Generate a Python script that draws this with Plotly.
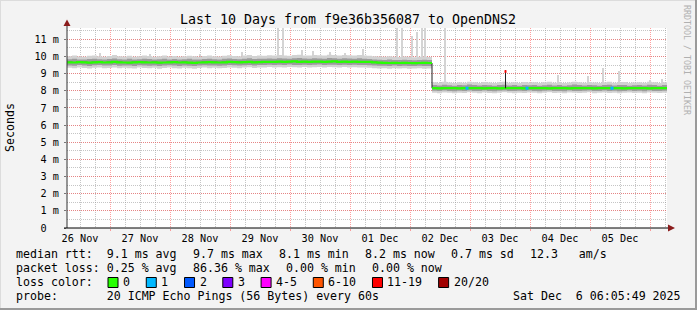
import plotly.graph_objects as go
import pandas as pd

# ---------------- data ----------------
start_time = pd.Timestamp("2025-11-26 06:48:00")
span_hours = 240
sample_hours = list(range(0, 241, 2))

median_ms = [
    9.66, 9.65, 9.67, 9.66, 9.64, 9.66, 9.67, 9.65, 9.66, 9.68,
    9.66, 9.65, 9.64, 9.66, 9.67, 9.66, 9.65, 9.66, 9.64, 9.65,
    9.66, 9.67, 9.65, 9.66, 9.64, 9.63, 9.65, 9.66, 9.67, 9.66,
    9.65, 9.66, 9.68, 9.67, 9.66, 9.67, 9.68, 9.66, 9.67, 9.68,
    9.69, 9.68, 9.70, 9.69, 9.70, 9.71, 9.69, 9.70, 9.69, 9.70,
    9.70, 9.69, 9.70, 9.71, 9.69, 9.70, 9.69, 9.70, 9.68, 9.69,
    9.68, 9.66, 9.64, 9.63, 9.62, 9.63, 9.62, 9.63, 9.62, 9.61, 9.62, 9.63, 9.62,
    8.15, 8.14, 8.15, 8.16, 8.15, 8.14, 8.15, 8.15, 8.16, 8.15, 8.14, 8.15, 8.15, 8.14, 8.15,
    8.15, 8.16, 8.15, 8.14, 8.15, 8.16, 8.15, 8.15, 8.14, 8.15, 8.16, 8.15, 8.14, 8.15, 8.15,
    8.16, 8.15, 8.14, 8.15, 8.15, 8.16, 8.15, 8.15, 8.14, 8.15, 8.16, 8.15, 8.15, 8.14, 8.15,
    8.15, 8.16, 8.15,
]

smoke_outer_hi = [
    10.02, 10.05, 10.00, 9.98, 10.04, 10.06, 10.01, 9.99, 10.03, 10.08,
    10.02, 10.00, 10.04, 9.98, 10.01, 10.05, 10.03, 9.99, 10.02, 10.06,
    10.00, 10.03, 9.98, 10.02, 10.04, 10.01, 9.99, 10.03, 10.05, 10.02,
    10.00, 10.04, 10.07, 10.03, 10.01, 10.05, 10.08, 10.03, 10.06, 10.04,
    10.07, 10.05, 10.09, 10.06, 10.04, 10.08, 10.10, 10.06, 10.05, 10.09,
    10.07, 10.05, 10.10, 10.08, 10.06, 10.09, 10.07, 10.05, 10.08, 10.06,
    10.04, 10.02, 10.00, 9.98, 10.01, 9.99, 9.97, 10.00, 9.98, 9.96, 9.99, 10.00, 9.97,
    8.50, 8.46, 8.52, 8.48, 8.45, 8.50, 8.47, 8.53, 8.49, 8.46,
    8.51, 8.48, 8.45, 8.50, 8.52, 8.47, 8.49, 8.46, 8.51, 8.48,
    8.50, 8.45, 8.49, 8.52, 8.47, 8.50, 8.46, 8.48, 8.53, 8.49,
    8.47, 8.51, 8.48, 8.46, 8.50, 8.52, 8.47, 8.49, 8.51, 8.46,
    8.48, 8.50, 8.47, 8.52, 8.49, 8.46, 8.50, 8.48,
]

smoke_outer_lo = [
    9.34, 9.31, 9.35, 9.33, 9.30, 9.34, 9.36, 9.32, 9.33, 9.35,
    9.31, 9.34, 9.32, 9.30, 9.35, 9.33, 9.31, 9.34, 9.29, 9.33,
    9.35, 9.32, 9.30, 9.34, 9.31, 9.28, 9.33, 9.35, 9.32, 9.34,
    9.31, 9.33, 9.36, 9.34, 9.32, 9.35, 9.37, 9.33, 9.35, 9.36,
    9.38, 9.35, 9.37, 9.36, 9.39, 9.37, 9.35, 9.38, 9.36, 9.37,
    9.39, 9.36, 9.38, 9.37, 9.35, 9.38, 9.36, 9.37, 9.35, 9.36,
    9.34, 9.32, 9.30, 9.31, 9.29, 9.32, 9.30, 9.31, 9.29, 9.30, 9.31, 9.29, 9.30,
    7.89, 7.86, 7.90, 7.88, 7.85, 7.89, 7.87, 7.91, 7.88, 7.86,
    7.90, 7.87, 7.85, 7.89, 7.91, 7.88, 7.86, 7.89, 7.87, 7.90,
    7.88, 7.85, 7.89, 7.91, 7.87, 7.88, 7.86, 7.90, 7.88, 7.87,
    7.89, 7.91, 7.86, 7.88, 7.90, 7.87, 7.89, 7.85, 7.88, 7.90,
    7.87, 7.89, 7.86, 7.90, 7.88, 7.87, 7.89, 7.88,
]

smoke_inner_hi = [
    9.84, 9.86, 9.83, 9.82, 9.85, 9.87, 9.84, 9.83, 9.85, 9.88,
    9.84, 9.83, 9.86, 9.82, 9.84, 9.86, 9.85, 9.83, 9.84, 9.87,
    9.83, 9.85, 9.82, 9.84, 9.86, 9.83, 9.82, 9.85, 9.86, 9.84,
    9.83, 9.86, 9.88, 9.85, 9.84, 9.87, 9.89, 9.85, 9.87, 9.86,
    9.88, 9.87, 9.90, 9.88, 9.86, 9.89, 9.91, 9.88, 9.87, 9.90,
    9.88, 9.87, 9.91, 9.89, 9.87, 9.90, 9.88, 9.87, 9.89, 9.87,
    9.85, 9.83, 9.81, 9.80, 9.82, 9.80, 9.79, 9.81, 9.80, 9.78, 9.80, 9.81, 9.79,
    8.33, 8.31, 8.35, 8.32, 8.30, 8.34, 8.32, 8.36, 8.33, 8.31,
    8.34, 8.32, 8.30, 8.33, 8.35, 8.31, 8.33, 8.30, 8.34, 8.32,
    8.33, 8.30, 8.32, 8.35, 8.31, 8.33, 8.30, 8.32, 8.36, 8.33,
    8.31, 8.34, 8.32, 8.30, 8.33, 8.35, 8.31, 8.33, 8.34, 8.30,
    8.32, 8.34, 8.31, 8.35, 8.33, 8.30, 8.33, 8.32,
]

smoke_inner_lo = [
    9.48, 9.46, 9.50, 9.47, 9.45, 9.49, 9.50, 9.47, 9.48, 9.50,
    9.46, 9.48, 9.47, 9.45, 9.49, 9.48, 9.46, 9.48, 9.44, 9.47,
    9.49, 9.47, 9.45, 9.48, 9.46, 9.44, 9.47, 9.49, 9.47, 9.48,
    9.46, 9.48, 9.50, 9.49, 9.47, 9.49, 9.51, 9.48, 9.50, 9.50,
    9.52, 9.50, 9.52, 9.51, 9.53, 9.51, 9.50, 9.52, 9.51, 9.52,
    9.53, 9.51, 9.52, 9.52, 9.50, 9.52, 9.51, 9.52, 9.50, 9.51,
    9.49, 9.47, 9.46, 9.46, 9.45, 9.47, 9.45, 9.46, 9.45, 9.45, 9.46, 9.44, 9.45,
    8.00, 7.98, 8.01, 7.99, 7.97, 8.00, 7.98, 8.02, 7.99, 7.98,
    8.01, 7.99, 7.97, 8.00, 8.02, 7.99, 7.98, 8.00, 7.98, 8.01,
    7.99, 7.97, 8.00, 8.02, 7.98, 7.99, 7.97, 8.01, 7.99, 7.98,
    8.00, 8.02, 7.98, 7.99, 8.01, 7.98, 8.00, 7.97, 7.99, 8.01,
    7.98, 8.00, 7.97, 8.01, 7.99, 7.98, 8.00, 7.99,
]

# single-sample outlier pings (smoke spikes)
spike_hours = [13.2, 33.2, 53.2, 69.9, 84.5, 86.5, 93.9, 98.4, 105.2, 111.2, 118.4,
               131.9, 133.9, 137.9, 139.9, 141.9, 143.2, 151.2, 196.4, 208.4,
               214.4, 220.8, 233.2, 238.0]
spike_base_ms = [10.0, 10.0, 10.0, 10.0, 10.0, 10.0, 10.0, 10.0, 10.0, 10.0, 10.0,
                 9.95, 9.95, 9.95, 9.95, 9.95, 9.95, 8.45, 8.45, 8.45,
                 8.45, 8.45, 8.45, 8.45]
spike_top_ms = [10.2, 10.15, 10.15, 10.25, 11.7, 11.7, 10.35, 10.3, 10.25, 10.2, 10.45,
                11.7, 11.7, 11.2, 11.4, 11.7, 11.7, 11.7, 8.9, 8.85,
                9.3, 9.15, 8.6, 8.7]

# samples with packet loss (hours, lost pings of 20)
loss_hours = [160, 184, 218]
loss_counts = [1, 1, 1]

# short outage event: median jump with heavy loss
event_hours = [175.4]
event_base_ms = [8.15]
event_top_ms = [9.2]
event_loss = [15]

loss_labels = ["0", "1", "2", "3", "4-5", "6-10", "11-19", "20/20"]
loss_upper = [0, 1, 2, 3, 5, 10, 19, 20]
loss_colors = ["#26ff00", "#00b8ff", "#0059ff", "#7e00ff", "#ff00ff",
               "#ff5500", "#ff0000", "#a10000"]

y_tick_vals = list(range(0, 12))
y_tick_text = ["0\u00a0\u00a0"] + [f"{v} m" for v in range(1, 12)]

title_text = "Last 10 Days from f9e36b356087 to OpenDNS2"
stats_rtt = ["median rtt:  9.1 ms avg", "9.7 ms max", "8.1 ms min", "8.2 ms now",
             "0.7 ms sd", "12.3   am/s"]
stats_loss = ["packet loss: 0.25 % avg", "86.36 % max", "0.00 % min", "0.00 % now"]
probe_text = "probe:       20 ICMP Echo Pings (56 Bytes) every 60s"
stamp_text = "Sat Dec  6 06:05:49 2025"

# ---------------- layout geometry ----------------
W, H = 697, 310
L, R, T, B = 67, 667, 28, 228
MONO = "DejaVu Sans Mono"
CW = 6.97          # legend character advance (px)
GAP = 16.3         # gap between legend items (px)
LEG_FS = 11.6
AX_FS = 10.2


def px(xp):
    return (xp - L) / (R - L)


def py(yp):
    return (B - yp) / (B - T)


def nb(s):
    return s.replace(" ", "\u00a0")


def to_time(h):
    return start_time + pd.Timedelta(hours=h)


def loss_color(n):
    for up, c in zip(loss_upper, loss_colors):
        if n <= up:
            return c
    return loss_colors[-1]


times = [to_time(h) for h in sample_hours]

fig = go.Figure()

# spikes (outlier pings)
fig.add_trace(go.Bar(
    x=[to_time(h) for h in spike_hours],
    y=[t - b for t, b in zip(spike_top_ms, spike_base_ms)],
    base=spike_base_ms,
    width=0.4 * 3600 * 1000,
    marker=dict(color="#d4d4d4", line=dict(width=0)),
    hoverinfo="skip",
))

# outer smoke
fig.add_trace(go.Scatter(x=times, y=smoke_outer_lo, mode="lines", line=dict(width=0, shape="hv"),
                         hoverinfo="skip"))
fig.add_trace(go.Scatter(x=times, y=smoke_outer_hi, mode="lines", line=dict(width=0, shape="hv"),
                         fill="tonexty", fillcolor="#d2d2d2", hoverinfo="skip"))
# inner smoke
fig.add_trace(go.Scatter(x=times, y=smoke_inner_lo, mode="lines", line=dict(width=0, shape="hv"),
                         hoverinfo="skip"))
fig.add_trace(go.Scatter(x=times, y=smoke_inner_hi, mode="lines", line=dict(width=0, shape="hv"),
                         fill="tonexty", fillcolor="#9c9c9c", hoverinfo="skip"))

# thin black median line
fig.add_trace(go.Scatter(x=times, y=median_ms, mode="lines",
                         line=dict(color="#202020", width=1, shape="hv"), hoverinfo="skip"))

# green (loss 0) median band, broken at large jumps
gx, gy = [], []
for i, (t, v) in enumerate(zip(times, median_ms)):
    if i > 0 and abs(v - median_ms[i - 1]) > 0.5:
        gx += [t, None]
        gy += [median_ms[i - 1], None]
    gx.append(t)
    gy.append(v)
fig.add_trace(go.Scatter(x=gx, y=gy, mode="lines", connectgaps=False,
                         line=dict(color=loss_colors[0], width=2.2, shape="hv"), hoverinfo="skip"))

# samples with loss
loss_med = [median_ms[sample_hours.index(h)] for h in loss_hours]
fig.add_trace(go.Scatter(x=[to_time(h) for h in loss_hours], y=loss_med, mode="markers",
                         marker=dict(symbol="square", size=3, color=[loss_color(n) for n in loss_counts],
                                     line=dict(width=0)),
                         hoverinfo="skip"))

# outage event
for h, b0, tp, n in zip(event_hours, event_base_ms, event_top_ms, event_loss):
    t = to_time(h)
    fig.add_trace(go.Scatter(x=[t, t], y=[b0, tp], mode="lines",
                             line=dict(color="#202020", width=1), hoverinfo="skip"))
    fig.add_trace(go.Scatter(x=[t, t], y=[tp - 0.15, tp], mode="lines",
                             line=dict(color=loss_color(n), width=2), hoverinfo="skip"))

red_grid = "rgba(255,80,80,0.55)"
grey_grid = "rgba(150,150,150,0.55)"

fig.update_layout(
    width=W, height=H,
    margin=dict(l=L, r=W - R, t=T, b=H - B, pad=0),
    paper_bgcolor="#f3f3f3",
    plot_bgcolor="#ffffff",
    showlegend=False,
    font=dict(family=MONO, color="#000000"),
    title=dict(text=title_text, font=dict(family=MONO, size=13.3, color="#000000"),
               x=348 / W, xanchor="center", xref="container",
               y=1 - 19 / H, yanchor="middle", yref="container"),
    xaxis=dict(
        type="date",
        range=[start_time, to_time(span_hours)],
        tick0="2025-11-26", dtick=86400000,
        tickformat="%d %b", ticklabelmode="period",
        showgrid=True, gridcolor=red_grid, griddash="1px,1px", gridwidth=1,
        ticks="outside", ticklen=2, tickcolor=red_grid,
        tickfont=dict(family=MONO, size=AX_FS, color="#000000"),
        ticklabelstandoff=-1,
        minor=dict(dtick=6 * 3600000, tick0="2025-11-26", showgrid=True,
                   gridcolor=grey_grid, griddash="1px,1px", ticks=""),
        zeroline=False, showline=False, fixedrange=True,
    ),
    yaxis=dict(
        range=[0, 11.66],
        tickvals=y_tick_vals, ticktext=y_tick_text,
        showgrid=True, gridcolor=red_grid, griddash="1px,1px", gridwidth=1,
        ticks="outside", ticklen=2, tickcolor="#777777",
        tickfont=dict(family=MONO, size=AX_FS, color="#000000"),
        ticklabelstandoff=3,
        minor=dict(dtick=0.5, tick0=0, showgrid=True, gridcolor=grey_grid,
                   griddash="1px,1px", ticks=""),
        zeroline=False, showline=False, fixedrange=True,
    ),
    bargap=0,
)

shapes = []
ann = []

# axis lines and arrows
shapes.append(dict(type="line", xref="paper", yref="paper", x0=px(67), x1=px(67), y0=py(228), y1=py(22),
                   line=dict(color="#303030", width=1)))
shapes.append(dict(type="line", xref="paper", yref="paper", x0=px(64), x1=px(670), y0=py(228), y1=py(228),
                   line=dict(color="#000000", width=1)))
arrow_col = "#8b1c1c"
shapes.append(dict(type="path", xref="paper", yref="paper",
                   path=f"M {px(63.5)},{py(26)} L {px(67)},{py(19.5)} L {px(70.5)},{py(26)} Z",
                   fillcolor=arrow_col, line=dict(width=0)))
shapes.append(dict(type="path", xref="paper", yref="paper",
                   path=f"M {px(668)},{py(224.5)} L {px(675)},{py(228)} L {px(668)},{py(231.5)} Z",
                   fillcolor=arrow_col, line=dict(width=0)))

# 3-D frame
shapes.append(dict(type="line", xref="paper", yref="paper", x0=px(0), x1=px(697), y0=py(0.5), y1=py(0.5),
                   line=dict(color="#dcdcdc", width=1)))
shapes.append(dict(type="line", xref="paper", yref="paper", x0=px(0.5), x1=px(0.5), y0=py(0), y1=py(310),
                   line=dict(color="#dcdcdc", width=1)))
shapes.append(dict(type="line", xref="paper", yref="paper", x0=px(696), x1=px(696), y0=py(0), y1=py(310),
                   line=dict(color="#9a9a9a", width=2)))
shapes.append(dict(type="line", xref="paper", yref="paper", x0=px(0), x1=px(697), y0=py(309), y1=py(309),
                   line=dict(color="#9a9a9a", width=2)))


def text_at(x, y, s, size=LEG_FS, anchor="left", color="#000000", angle=0):
    ann.append(dict(text=nb(s), xref="paper", yref="paper", x=px(x), y=py(y),
                    xanchor=anchor, yanchor="middle", showarrow=False, textangle=angle,
                    borderpad=0, borderwidth=0,
                    font=dict(family=MONO, size=size, color=color)))


# y unit
text_at(10, 128, "Seconds", anchor="center", angle=-90)
# watermark
text_at(687, 60, "RRDTOOL / TOBI OETIKER", size=8.3, anchor="center", color="#b0b0b0", angle=90)

# legend line 1 & 2
x0 = 16
xc = x0
for s in stats_rtt:
    text_at(xc, 254, s)
    xc += len(s) * CW + GAP
xc = x0
for s in stats_loss:
    text_at(xc, 268, s)
    xc += len(s) * CW + GAP

# legend line 3: loss colours
lbl = "loss color:"
text_at(x0, 282, lbl)
xc = 108
for lab, col in zip(loss_labels, loss_colors):
    shapes.append(dict(type="rect", xref="paper", yref="paper",
                       x0=px(xc), x1=px(xc + 10), y0=py(277.5), y1=py(287.5),
                       fillcolor=col, line=dict(color="#000000", width=1)))
    text_at(xc + 15, 282, lab)
    xc += 15 + len(lab) * CW + GAP

# legend line 4
text_at(x0, 295.5, probe_text)
text_at(681, 295.5, stamp_text, anchor="right")

fig.update_layout(shapes=shapes, annotations=ann)
fig.write_html("out.html")
